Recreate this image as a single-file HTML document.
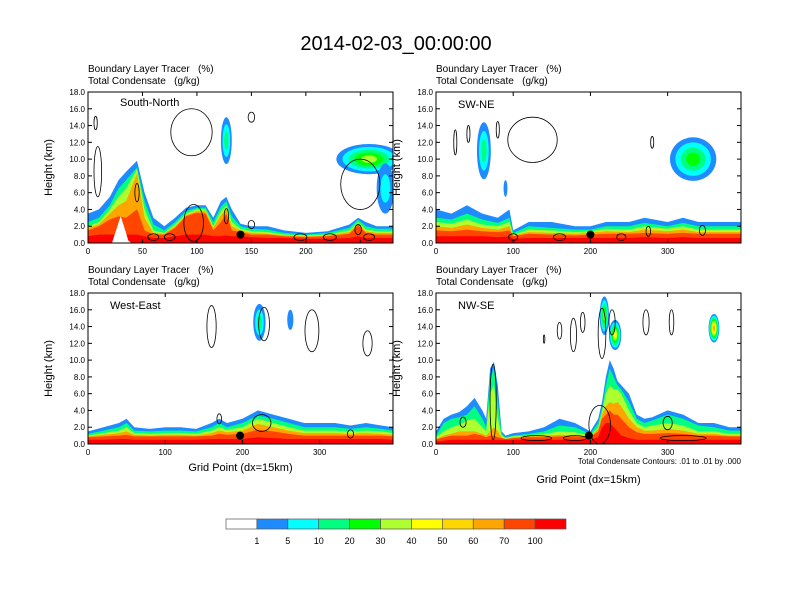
<!DOCTYPE html>
<html><head><meta charset="utf-8"><style>
body{margin:0;background:#fff}
svg{display:block;font-family:"Liberation Sans",Arial,sans-serif}
</style></head><body>
<svg id="fig" width="792" height="612" viewBox="0 0 792 612">
<text x="396" y="50" font-size="20" text-anchor="middle">2014-02-03_00:00:00</text>
</svg>
<script>
const levelColors=['#1E8CFF','#00FFFF','#00FF80','#00FF00','#ADFF2F','#FFFF00','#FFD700','#FFA500','#FF4500','#FF0000'];
const levelLabels=['1','5','10','20','30','40','50','60','70','100'];
const bandColors=['#1E8CFF','#00FF80','#ADFF2F','#FFA500','#FF4500','#FF0000'];
const yTicks=[0,2,4,6,8,10,12,14,16,18];
const yTickLabels=['0.0','2.0','4.0','6.0','8.0','10.0','12.0','14.0','16.0','18.0'];

const p1Name='South-North';
const p1Xmax=280;
const p1XTicks=[0,50,100,150,200,250];
const p1Xs=[0,10,20,28,35,45,52,60,70,80,90,100,108,115,122,127,132,140,150,165,180,200,220,240,248,255,265,280];
const p1H1=[3.5,4,5.5,7.5,8.5,9.8,6,3,2,3,4.2,4.5,4.5,3,5,5.5,4,2.3,2,2,1.5,1.2,1.4,2.2,3,2.5,2,2];
const p1H10=[2.5,3,4.5,6.5,7.5,9,5,2.2,1.5,2.5,3.8,4.2,4.2,2.5,4.3,5,3.2,2,1.7,1.6,1.2,1,1.2,1.8,2.8,2,1.7,1.7];
const p1H30=[2,2.5,4,5.5,6.5,8.8,4,1.5,1.2,2.2,3.5,4,4,2,3.8,4.5,2.5,1.7,1.4,1.3,1,0.9,1,1.5,2.5,1.6,1.4,1.4];
const p1H50=[1.8,2.2,3.5,4.5,5,8.3,3,1.2,1.1,2,3.3,3.8,3.8,1.8,3.3,4,2,1.5,1.2,1.1,0.9,0.8,0.9,1.3,2.3,1.4,1.2,1.2];
const p1H70=[1.5,2,2.8,3.2,3,4,1.5,1,1,1.8,3.2,3.6,3.5,1.5,2.5,3.5,1.5,1.3,1,1,0.8,0.7,0.8,1.1,2.1,1.2,1,1];
const p1H100=[0.8,1,1,1,1,1,0.8,0.6,0.6,0.8,1,1,1,0.8,0.8,0.9,0.8,0.8,0.7,0.6,0.6,0.5,0.5,0.6,0.8,0.6,0.6,0.6];
const p1TerrX=[22,27,30,33,37,40];
const p1TerrH=[0,2,3.2,2,0.3,0];
const p1Blobs=[[127,12.2,5,2.8,2],[258,10,30,1.8,4],[273,6.5,8,3,1]];
const p1Loops=[[7,14.3,1.5,0.8],[9,8.5,3.5,3],[95,13.2,19,2.8],[150,15,3,0.6],[45,6,2,1.1],[127,3.2,2,0.9],[150,2.2,3,0.5],[97,2.4,9,2.2],[250,7,18,3],[60,0.7,5,0.4],[75,0.7,5,0.4],[195,0.7,6,0.4],[222,0.7,6,0.4],[258,0.7,5,0.4],[248,1.6,3,0.6]];
const p1Dot=[140,1];

const p2Name='SW-NE';
const p2Xmax=395;
const p2XTicks=[0,100,200,300];
const p2Xs=[0,20,40,60,80,95,100,120,150,180,200,220,250,270,300,320,340,360,380,395];
const p2H1=[4,3.5,4.5,3.5,3,4,1.5,2.5,2.5,2,2,2.5,2.5,3,2.5,3,2.5,2.5,2.5,2.5];
const p2H10=[3,2.8,3.5,2.8,2.4,3,1.2,2,1.8,1.6,1.6,2,2,2.4,2,2.4,2,2,2,2];
const p2H30=[2.5,2.3,2.8,2.2,2,2.5,1,1.6,1.5,1.3,1.4,1.7,1.6,2,1.7,2,1.6,1.6,1.6,1.6];
const p2H50=[2,1.8,2.2,1.8,1.6,2,0.9,1.3,1.2,1.1,1.2,1.4,1.3,1.6,1.4,1.6,1.3,1.3,1.3,1.3];
const p2H70=[1.5,1.4,1.6,1.4,1.3,1.5,0.8,1.1,1,0.9,1,1.1,1.1,1.2,1.1,1.2,1.1,1.1,1.1,1.1];
const p2H100=[0.8,0.8,0.8,0.8,0.7,0.8,0.5,0.6,0.6,0.6,0.6,0.6,0.6,0.7,0.6,0.7,0.6,0.6,0.6,0.6];
const p2TerrX=[];
const p2TerrH=[];
const p2Blobs=[[62,11,9,3.4,2],[90,6.5,2.5,1,0],[333,10,30,2.6,3]];
const p2Loops=[[125,12.3,32,2.7],[25,12,2,1.5],[42,13,2,1],[80,13.5,2,1],[280,12,2,0.7],[100,0.7,6,0.4],[160,0.7,8,0.4],[240,0.7,6,0.4],[345,1.5,4,0.6],[275,1.4,3,0.6]];
const p2Dot=[200,1];

const p3Name='West-East';
const p3Xmax=395;
const p3XTicks=[0,100,200,300];
const p3Xs=[0,20,40,50,60,80,100,120,140,160,170,180,200,220,240,260,280,300,320,340,360,380,395];
const p3H1=[1.5,2,2.5,3,2,1.8,2,2,1.8,2.5,3,2.5,3,4,3.5,3,2.5,2.5,2.5,2.2,2.5,2.2,2];
const p3H10=[1.2,1.6,2,2.5,1.6,1.5,1.6,1.6,1.5,2,2.5,2,2.5,3.4,3,2.5,2,2,2,1.8,2,1.8,1.6];
const p3H30=[1,1.3,1.6,2,1.3,1.2,1.3,1.3,1.2,1.6,2,1.7,2,3,2.5,2,1.6,1.6,1.6,1.5,1.6,1.5,1.3];
const p3H50=[0.9,1.1,1.3,1.5,1.1,1,1.1,1.1,1,1.3,1.6,1.4,1.6,2.4,2,1.6,1.3,1.3,1.3,1.2,1.3,1.2,1.1];
const p3H70=[0.8,0.9,1,1.1,0.9,0.9,0.9,0.9,0.9,1,1.2,1.1,1.2,1.7,1.5,1.2,1,1,1,1,1,1,0.9];
const p3H100=[0.5,0.5,0.6,0.6,0.5,0.5,0.5,0.5,0.5,0.6,0.6,0.6,0.6,0.8,0.7,0.6,0.6,0.6,0.6,0.6,0.6,0.6,0.5];
const p3TerrX=[];
const p3TerrH=[];
const p3Blobs=[[222,14.5,8,2.2,2],[262,14.8,4,1.2,0]];
const p3Loops=[[160,14,6,2.5],[228,14.3,7,2],[290,13.5,9,2.5],[362,12,6,1.5],[225,2.5,12,1],[170,3,3,0.6],[340,1.2,4,0.5]];
const p3Dot=[197,1];

const p4Name='NW-SE';
const p4Xmax=395;
const p4XTicks=[0,100,200,300];
const p4Xs=[0,10,20,30,40,50,60,65,70,75,80,85,90,100,120,140,160,180,200,210,215,220,225,230,235,240,250,260,270,280,300,320,340,360,380,395];
const p4H1=[1.5,3,3.5,3.8,4.5,5.5,4,3,9,9.8,7,1.5,1,1.3,1.5,2,3,2.5,1.5,3,5,8,10,9,7.5,7,6,3.5,3,3.2,4,3.5,2.5,2.5,2,2];
const p4H10=[1,2.5,3,3.2,3.5,4.5,3,2,8,9,5,1.2,0.8,1,1.2,1.5,2.2,2,1.2,2.5,4.2,7,9,8,7,6.5,5,3,2.5,2.8,3.5,3,2.2,2,1.6,1.6];
const p4H30=[0.8,1.5,2,2.3,2.8,3,2,1.5,6,7,3,1,0.7,0.9,1,1.2,1.5,1.4,1,2,3.8,6,7,6.5,6.5,6,4,2.5,2,2.2,2.5,2.2,1.5,1.5,1.2,1.2];
const p4H50=[0.6,1,1.2,1.5,1.5,1.5,1.2,1,1.5,2,1.5,0.8,0.6,0.8,0.9,1,1.1,1,0.9,1.8,3.5,4.5,5,4.8,5,4.5,3,2,1.6,1.6,1.8,1.6,1.2,1.2,1,1];
const p4H70=[0.5,0.8,1,1,1,1.2,1,0.8,1,1,0.8,0.7,0.6,0.7,0.8,0.8,0.9,0.9,0.8,1.5,3,3.5,4,3.5,3.5,3,2,1.4,1.2,1.2,1.3,1.2,1,1,0.9,0.9];
const p4H100=[0.3,0.4,0.5,0.5,0.5,0.5,0.5,0.5,0.5,0.5,0.5,0.5,0.5,0.5,0.5,0.5,0.5,0.5,0.5,0.8,2,2.5,2.5,2,1.5,1,0.7,0.5,0.5,0.5,0.5,0.5,0.5,0.5,0.5,0.5];
const p4TerrX=[];
const p4TerrH=[];
const p4Blobs=[[218,15.3,6,2.3,4],[232,13,8,1.8,5],[360,13.8,7,1.7,7]];
const p4Loops=[[140,12.5,1,0.5],[160,13.5,3,1],[178,13,4,2],[190,14.5,3,1.2],[215,13.2,5,3],[228,14.5,4,1.5],[272,14.5,4,1.5],[305,14.5,3,1.5],[74,5,4,4.5],[212,2.3,14,2.3],[130,0.7,20,0.3],[180,0.7,15,0.3],[320,0.7,30,0.3],[35,2.6,4,0.6],[300,2.5,6,0.8]];
const p4Dot=[198,1];

const NS='http://www.w3.org/2000/svg';
const svg=document.getElementById('fig');
function mk(tag,attrs,parent){const e=document.createElementNS(NS,tag);for(const k in attrs)e.setAttribute(k,attrs[k]);(parent||svg).appendChild(e);return e;}

const panels=[
 {name:p1Name,xmax:p1Xmax,ticks:p1XTicks,xs:p1Xs,hs:[p1H1,p1H10,p1H30,p1H50,p1H70,p1H100],tx:p1TerrX,th:p1TerrH,blobs:p1Blobs,loops:p1Loops,dot:p1Dot,L:88,T:92,xt:false,note:false,key:'south-north'},
 {name:p2Name,xmax:p2Xmax,ticks:p2XTicks,xs:p2Xs,hs:[p2H1,p2H10,p2H30,p2H50,p2H70,p2H100],tx:p2TerrX,th:p2TerrH,blobs:p2Blobs,loops:p2Loops,dot:p2Dot,L:436,T:92,xt:false,note:false,key:'sw-ne'},
 {name:p3Name,xmax:p3Xmax,ticks:p3XTicks,xs:p3Xs,hs:[p3H1,p3H10,p3H30,p3H50,p3H70,p3H100],tx:p3TerrX,th:p3TerrH,blobs:p3Blobs,loops:p3Loops,dot:p3Dot,L:88,T:293,xt:true,note:false,key:'west-east'},
 {name:p4Name,xmax:p4Xmax,ticks:p4XTicks,xs:p4Xs,hs:[p4H1,p4H10,p4H30,p4H50,p4H70,p4H100],tx:p4TerrX,th:p4TerrH,blobs:p4Blobs,loops:p4Loops,dot:p4Dot,L:436,T:293,xt:true,note:true,key:'nw-se'}
];
const W=305,H=151;
panels.forEach((p,pi)=>{
  const sx=x=>p.L+x/p.xmax*W, sy=y=>p.T+H-y/18*H;
  const g=mk('g',{});
  
  
  const cp=mk('clipPath',{id:'cp'+pi},g);
  mk('rect',{x:p.L,y:p.T,width:W,height:H},cp);
  const t1=mk('text',{x:p.L,y:p.T-20,'font-size':10},g);t1.textContent='Boundary Layer Tracer\u00a0\u00a0\u00a0(%)';
  
  const t2=mk('text',{x:p.L,y:p.T-8,'font-size':10},g);t2.textContent='Total Condensate\u00a0\u00a0\u00a0(g/kg)';
  
  const pg=mk('g',{'clip-path':'url(#cp'+pi+')'},g);
  p.hs.forEach((h,k)=>{
    let d='M'+sx(p.xs[0])+','+sy(0);
    p.xs.forEach((x,i)=>{d+=' L'+sx(x).toFixed(1)+','+sy(h[i]).toFixed(1);});
    d+=' L'+sx(p.xs[p.xs.length-1])+','+sy(0)+' Z';
    const a=mk('path',{d:d,fill:bandColors[k]},pg);
    
    
  });
  if(p.tx.length){
    let d='';p.tx.forEach((x,i)=>{d+=(i?' L':'M')+sx(x)+','+sy(p.th[i]);});
    const tr=mk('path',{d:d+' Z',fill:'#fff'},pg);
    
  }
  p.blobs.forEach(b=>{
    for(let k=0;k<=b[4];k++){
      const f=1-k/(b[4]+1.3);
      const e=mk('ellipse',{cx:sx(b[0]),cy:sy(b[1]),rx:b[2]/p.xmax*W*f,ry:b[3]/18*H*f,fill:levelColors[k]},pg);
      
      
    }
  });
  p.loops.forEach(l=>{
    const e=mk('ellipse',{cx:sx(l[0]),cy:sy(l[1]),rx:l[2]/p.xmax*W,ry:l[3]/18*H,fill:'none',stroke:'#000','stroke-width':0.8},pg);
    
    
  });
  const dt=mk('circle',{cx:sx(p.dot[0]),cy:sy(p.dot[1]),r:4,fill:'#000'},pg);
  
  const fr=mk('rect',{x:p.L,y:p.T,width:W,height:H,fill:'none',stroke:'#000','stroke-width':1},g);
  
  yTicks.forEach((v,i)=>{
    mk('line',{x1:p.L,x2:p.L+4,y1:sy(v),y2:sy(v),stroke:'#000'},g);
    mk('line',{x1:p.L+W,x2:p.L+W-4,y1:sy(v),y2:sy(v),stroke:'#000'},g);
    const t=mk('text',{x:p.L-3,y:sy(v)+3,'font-size':8,'text-anchor':'end'},g);t.textContent=yTickLabels[i];
    
  });
  p.ticks.forEach(v=>{
    mk('line',{x1:sx(v),x2:sx(v),y1:p.T+H,y2:p.T+H-4,stroke:'#000'},g);
    mk('line',{x1:sx(v),x2:sx(v),y1:p.T,y2:p.T+4,stroke:'#000'},g);
    const t=mk('text',{x:sx(v),y:p.T+H+11,'font-size':8,'text-anchor':'middle'},g);t.textContent=String(v);
    
  });
  const yt=mk('text',{x:0,y:0,'font-size':11,'text-anchor':'middle',transform:'translate('+(p.L-36)+','+(p.T+H/2)+') rotate(-90)'},g);
  yt.textContent='Height (km)';
  const nm=mk('text',{x:p.L+(pi==0?32:22),y:p.T+(pi==0?14:16),'font-size':11},g);nm.textContent=p.name;
  
  if(p.note){
    const n=mk('text',{x:p.L+W,y:p.T+H+20,'font-size':8,'text-anchor':'end'},g);
    n.textContent='Total Condensate Contours: .01 to .01 by .000';
    
  }
  if(p.xt){
    const xt=mk('text',{x:p.L+W/2,y:p.T+H+(p.note?39:27),'font-size':11,'text-anchor':'middle'},g);
    xt.textContent='Grid Point (dx=15km)';
    
  }
});
const lb=mk('g',{});


const bw=340/11;
['#FFFFFF'].concat(levelColors).forEach((c,i)=>{
  const r=mk('rect',{x:226+i*bw,y:519,width:bw,height:10,fill:c,stroke:'#555','stroke-width':0.7},lb);
  
});
levelLabels.forEach((s,i)=>{
  const t=mk('text',{x:226+(i+1)*bw,y:544,'font-size':9,'text-anchor':'middle'},lb);t.textContent=s;
  
});
</script>
</body></html>
